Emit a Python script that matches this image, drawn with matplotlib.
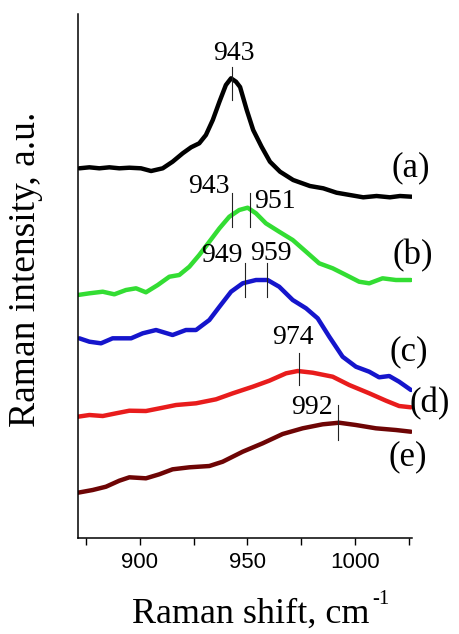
import matplotlib
matplotlib.use("Agg")
import matplotlib.pyplot as plt

plt.rcParams['font.family'] = ['Liberation Serif', 'DejaVu Serif']

# Spectra (Raman shift, cm-1 / intensity, a.u., offsets already applied)
x_a = [871.8, 876.5, 881.1, 885.8, 890.4, 895.1, 900.5, 905.2, 910.6, 915.2, 919.9,
       923.8, 927.6, 930.7, 933.9, 937, 940, 942.4, 944.7, 946.6, 949.7, 952.7, 956.6,
       960.5, 965.2, 971.3, 979.1, 985.3, 991.5, 997.7, 1003.9, 1010.1, 1016.3, 1021, 1026.4]
y_a = [369.7, 370.7, 369.7, 370.7, 369.7, 370.3, 369.7, 367, 369.7, 376.3, 384.7,
       390.7, 394.7, 403, 418, 436.3, 453, 459.7, 456.3, 451, 428, 408, 391.3,
       376.3, 366.3, 358, 352, 349.7, 345.3, 343, 340.7, 342, 340.7, 342, 341.3]

x_b = [871.1, 876.5, 882.7, 888.1, 893.5, 898.2, 902.8, 908.3, 913.7, 918.3, 923,
       927.6, 932.3, 937, 941.6, 946.2, 950.1, 954, 958.6, 964.8, 971.1, 977.3, 983.4,
       989.7, 995.9, 1002, 1006.7, 1012.9, 1019.1, 1026.1]
y_b = [243, 244.7, 246.3, 243.7, 248, 249.7, 245.7, 253, 261.3, 263, 271.3,
       283, 296.3, 309.7, 321.3, 328, 330.3, 324.7, 314.7, 306.3, 298, 286.3, 274.7,
       269.7, 263, 256.3, 254.7, 259.7, 258, 258]

x_c = [871.8, 876.5, 881.9, 887.3, 895.9, 901.3, 907.5, 915.2, 921.4, 926.1, 932.3,
       937, 942.4, 947.8, 954, 959.4, 964.8, 971.1, 977.3, 982.7, 988.1, 994.3,
       1000.5, 1006.7, 1011.3, 1016, 1020.6, 1026.1]
y_c = [199.7, 196.3, 194.7, 199.7, 199.7, 204.7, 208, 203, 208, 208, 218,
       231.3, 246.3, 254.7, 258, 258, 251.3, 238, 229.7, 219.7, 201.3, 181.3,
       171.3, 166.3, 160.7, 162, 156.3, 148]

x_d = [871.1, 876.5, 882.7, 888.9, 895.1, 902.8, 910.6, 916.8, 926.1, 935.4, 943.2,
       952.5, 960.2, 968, 973.4, 980.4, 989.7, 997.4, 1006.7, 1014.5, 1020.6, 1026.1]
y_d = [121.3, 123, 122, 124.7, 127.3, 127, 130.3, 133, 134.7, 138.7, 144.7,
       151.3, 157.3, 164.7, 167, 165.3, 161.3, 153, 144.7, 137.3, 132, 130.7]

x_e = [871.1, 878, 884.2, 890.4, 895.1, 902.8, 909, 915.2, 923, 932.3, 938.5,
       947.8, 957.1, 966.4, 975.7, 985, 992.7, 1000.5, 1009.8, 1019.1, 1026.1]
y_e = [45.3, 48, 51.3, 57.3, 60.7, 59.7, 63.7, 68.7, 70.7, 72, 76.3,
       86.3, 94.7, 104, 109.7, 113.7, 115.3, 113, 109.7, 108, 106.3]

curve_names = ['(a)', '(b)', '(c)', '(d)', '(e)']
curve_colors = ['#000000', '#33dd33', '#1515cc', '#e81c1c', '#6e0505']

# marked peak positions
peaks_a = [943]
peaks_b = [943, 951]
peaks_c = [949, 959]
peaks_d = [974]
peaks_e = [992]

fig = plt.figure(figsize=(4.6, 6.34), dpi=100)
ax = fig.add_axes([0.1696, 0.1514, 0.7261, 0.8265])

xs = [x_a, x_b, x_c, x_d, x_e]
ys = [y_a, y_b, y_c, y_d, y_e]
for x, y, c in zip(xs, ys, curve_colors):
    ax.plot(x, y, color=c, lw=3.2, solid_joinstyle='round', solid_capstyle='round')

# peak marker ticks: (peaks, y from, y to)
marks = [(peaks_a, 438, 471), (peaks_b, 311, 345), (peaks_c, 241, 275),
         (peaks_d, 153, 185), (peaks_e, 98, 133)]
for pk, y0, y1 in marks:
    for p in pk:
        ax.plot([p, p], [y0, y1], color='#222222', lw=0.8)

# peak labels
lab_pos = [(943.5, 485), (932, 352), (962.8, 337), (938, 283), (961, 285),
           (971, 201), (980, 131)]
lab_txt = [str(p) for p in peaks_a + peaks_b + peaks_c + peaks_d + peaks_e]
for (lx, ly), t in zip(lab_pos, lab_txt):
    ax.text(lx, ly, t, fontsize=20, ha='center', va='center')

# curve names at right
name_pos = [(1026, 370), (1027, 282), (1025, 186), (1035, 134), (1024.5, 81)]
for (lx, ly), t in zip(name_pos, curve_names):
    ax.text(lx, ly, t, fontsize=25, ha='center', va='center', clip_on=False)

ax.set_xlim(871.2, 1026.6)
ax.set_ylim(0, 524)
ax.spines['top'].set_visible(False)
ax.spines['right'].set_visible(False)
ax.spines['left'].set_linewidth(1.1)
ax.spines['bottom'].set_linewidth(1.1)
ax.set_yticks([])
ax.set_xticks([900, 950, 1000])
ax.set_xticks([875, 925, 975, 1025], minor=True)
ax.tick_params(axis='x', which='both', direction='out', length=5, width=1, pad=5)
for lbl in ax.get_xticklabels():
    lbl.set_fontfamily('Liberation Sans')
    lbl.set_fontsize(16)

# axis titles
xl = fig.text(132 / 460, 11 / 634, 'Raman shift, cm', fontsize=26,
              ha='left', va='baseline')
fig.text(26 / 460, 365 / 634, 'Raman intensity, a.u.', fontsize=27,
         rotation=90, ha='center', va='center')
fig.canvas.draw()
bb = xl.get_window_extent()
fig.text((bb.x1 + 3) / 460, 44 / 634, '-1', fontsize=15, ha='left', va='top')

fig.savefig('out.png', dpi=100)
